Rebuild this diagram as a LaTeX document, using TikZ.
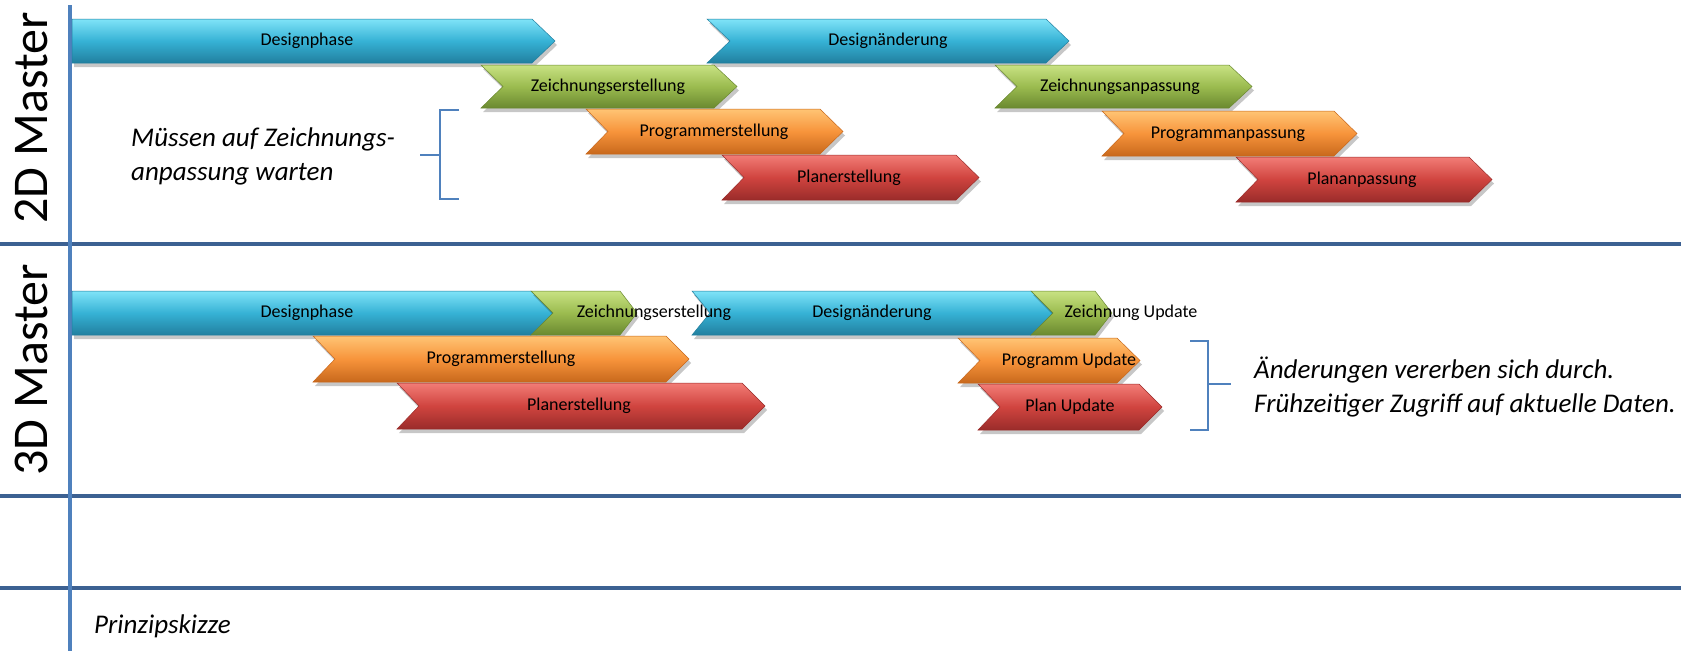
\documentclass[tikz,border=0pt]{standalone}
\usepackage{fontspec}
\setmainfont{Carlito}
\usetikzlibrary{shadows}
\definecolor{blueT}{HTML}{7FE3F8}
\definecolor{blueM}{HTML}{36B2D5}
\definecolor{blueB}{HTML}{217F9F}
\definecolor{greenT}{HTML}{C8E283}
\definecolor{greenM}{HTML}{9BBB4F}
\definecolor{greenB}{HTML}{6A8930}
\definecolor{orangeT}{HTML}{FFC474}
\definecolor{orangeM}{HTML}{F7943B}
\definecolor{orangeB}{HTML}{C8681C}
\definecolor{redT}{HTML}{F27C76}
\definecolor{redM}{HTML}{D0443F}
\definecolor{redB}{HTML}{9A2C2A}
\definecolor{axisblue}{HTML}{4F81BD}
\definecolor{sepblue}{HTML}{3C6192}
\tikzset{
  chevbase/.style={line width=0.5pt, drop shadow={shadow xshift=2pt, shadow yshift=-4pt, opacity=0.22, fill=black}},
  bluechev/.style={chevbase, top color=blueT, bottom color=blueB, middle color=blueM, draw=blueB},
  greenchev/.style={chevbase, top color=greenT, bottom color=greenB, middle color=greenM, draw=greenB},
  orangechev/.style={chevbase, top color=orangeT, bottom color=orangeB, middle color=orangeM, draw=orangeB},
  redchev/.style={chevbase, top color=redT, bottom color=redB, middle color=redM, draw=redB},
  lbl/.style={font=\fontsize{18}{20}\selectfont, text=black, inner sep=0pt},
  note/.style={font=\fontsize{27}{34}\selectfont\itshape, align=left, anchor=west, inner sep=0pt},
  rowtitle/.style={font=\fontsize{50}{52}\selectfont, rotate=90, inner sep=0pt},
  axisline/.style={draw=axisblue, line width=3.5pt},
  sepline/.style={draw=sepblue, line width=4pt},
  bracketline/.style={draw=axisblue, line width=1.5pt},
}
% style, xl, xr, ytop, ybottom, notch, head
\newcommand{\chevshape}[7]{%
  \path[#1] (#2,#4) -- ({#3-#7},#4) -- (#3,{(#4+#5)/2}) -- ({#3-#7},#5) -- (#2,#5) -- ({#2+#6},{(#4+#5)/2}) -- cycle;
}
\begin{document}
\begin{tikzpicture}[x=1pt,y=-1pt]
\useasboundingbox (0,0) rectangle (1681,651);
\fill[white] (0,0) rectangle (1681,651);

% grid lines
\draw[sepline] (0,244) -- (1681,244);
\draw[sepline] (0,496) -- (1681,496);
\draw[sepline] (0,588) -- (1681,588);
\draw[axisline] (70,5) -- (70,651);

% row titles
\node[rowtitle] (t2d) at (31,118) {2D Master};
\node[rowtitle] (t3d) at (31,370) {3D Master};

% ---------- 2D Master ----------
\chevshape{bluechev}{72}{555}{19}{63}{0}{23}
\chevshape{bluechev}{707}{1069}{19}{63}{23}{23}
\chevshape{greenchev}{481}{737}{65}{108}{22}{23}
\chevshape{greenchev}{995}{1252}{65}{108}{22}{23}
\chevshape{orangechev}{586}{843}{109}{154}{22}{23}
\chevshape{orangechev}{1102}{1357}{111}{156}{22}{23}
\chevshape{redchev}{722}{979}{155}{200}{22}{23}
\chevshape{redchev}{1236}{1492}{157}{202}{22}{23}

\node[lbl] (a1) at (307,41) {Designphase};
\node[lbl] (a2) at (888,41) {Designänderung};
\node[lbl] (a3) at (608,87) {Zeichnungserstellung};
\node[lbl] (a4) at (1120,87) {Zeichnungsanpassung};
\node[lbl] (a5) at (714,132) {Programmerstellung};
\node[lbl] (a6) at (1228,134) {Programmanpassung};
\node[lbl] (a7) at (849,178) {Planerstellung};
\node[lbl] (a8) at (1362,180) {Plananpassung};

\draw[bracketline] (459,110) -- (440,110) -- (440,199) -- (459,199);
\draw[bracketline] (420,155) -- (440,155);
\node[note] (n1) at (131,156) {Müssen auf Zeichnungs-\\anpassung warten};

% ---------- 3D Master ----------
\chevshape{bluechev}{72}{553}{291}{335}{0}{22}
\chevshape{greenchev}{531}{637}{291}{335}{22}{17}
\chevshape{bluechev}{692}{1053}{291}{335}{18}{22}
\chevshape{greenchev}{1031}{1112}{291}{335}{22}{17}
\chevshape{orangechev}{313}{689}{336}{382}{22}{23}
\chevshape{redchev}{397}{765}{383}{429}{22}{23}
\chevshape{orangechev}{958}{1140}{338}{383}{22}{23}
\chevshape{redchev}{978}{1162}{384}{430}{22}{23}

\node[lbl] (b1) at (307,313) {Designphase};
\node[lbl] (b2) at (654,313) {Zeichnungserstellung};
\node[lbl] (b3) at (872,313) {Designänderung};
\node[lbl] (b4) at (1131,313) {Zeichnung Update};
\node[lbl] (b5) at (501,359) {Programmerstellung};
\node[lbl] (b6) at (579,406) {Planerstellung};
\node[lbl] (b7) at (1069,361) {Programm Update};
\node[lbl] (b8) at (1070,407) {Plan Update};

\draw[bracketline] (1190,341) -- (1208,341) -- (1208,430) -- (1190,430);
\draw[bracketline] (1208,384) -- (1231,384);
\node[note] (n2) at (1254,387) {Änderungen vererben sich durch.\\Frühzeitiger Zugriff auf aktuelle Daten.};

\node[note] (n3) at (94,626) {Prinzipskizze};
\end{tikzpicture}
\end{document}
